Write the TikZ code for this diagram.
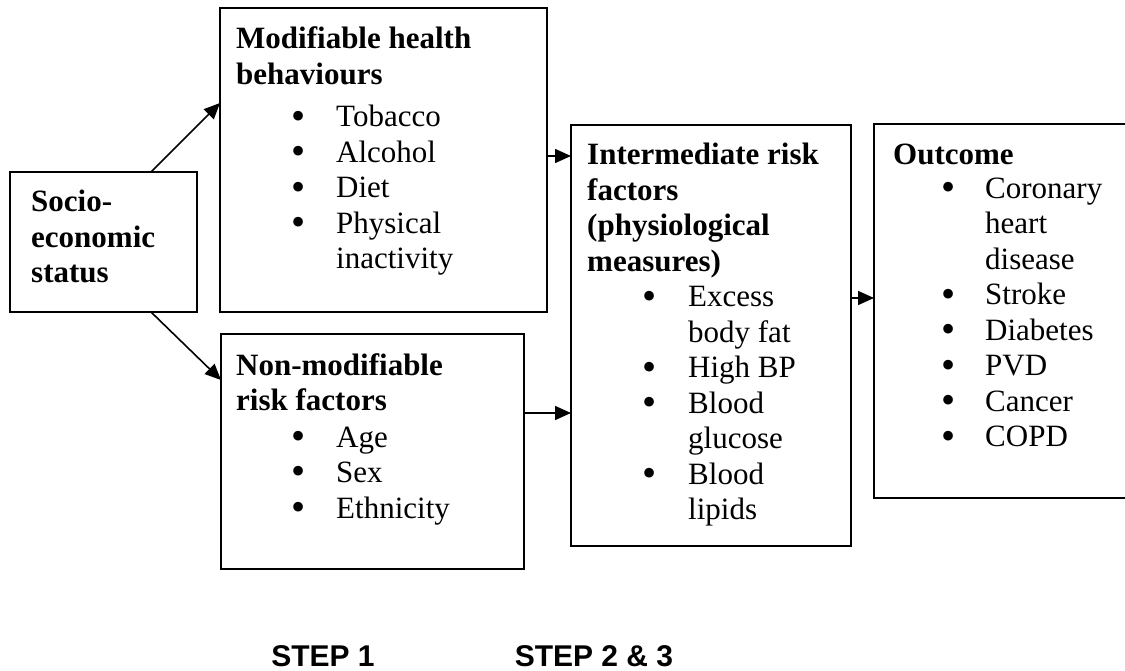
\documentclass[tikz,border=0pt]{standalone}
\usepackage{fontspec}
\usepackage{graphicx}
\setmainfont{Liberation Serif}
\newfontfamily\arialfont{Liberation Sans}
\usetikzlibrary{arrows.meta}

% bullet list lines: indent of the bullet, then gap to the item text
\newlength\bind
\newlength\tind
\newcommand\bigbullet{\raisebox{-2.4pt}[0pt][0pt]{\scalebox{1.3}{\textbullet}}}
\newcommand\bit[1]{\hspace*{\bind}\makebox[\tind][l]{\bigbullet}#1}
\newcommand\cnt[1]{\hspace*{\bind}\hspace*{\tind}#1}

\begin{document}
\begin{tikzpicture}[x=1pt,y=-1pt,
  panel/.style={draw,line width=1.8pt,inner sep=0pt,outer sep=0pt,anchor=north west},
  txt/.style={inner sep=0pt,anchor=base west,font=\fontsize{31}{35.5}\selectfont},
  arr/.style={line width=1.6pt,-{Triangle[length=16pt,width=14pt]}},
  steplbl/.style={inner sep=0pt,anchor=base,font=\arialfont\bfseries\fontsize{30}{34}\selectfont}]
\clip (0,0) rectangle (1125,671);

% boxes
\node[panel,minimum width=187pt,minimum height=140pt] (socio) at (10,172) {};
\node[panel,minimum width=327pt,minimum height=304pt] (mod) at (220,8) {};
\node[panel,minimum width=303pt,minimum height=235pt] (nonmod) at (221,334) {};
\node[panel,minimum width=280pt,minimum height=421pt] (inter) at (571,125) {};
\node[panel,minimum width=270pt,minimum height=374pt] (outc) at (874,124) {};

% box texts
\node[txt] (tsocio) at (31,212) {\parbox[t]{160pt}{\bfseries Socio-\\economic\\status}};

\node[txt] (tmod) at (236,49) {\setlength\bind{55pt}\setlength\tind{45pt}%
  \parbox[t]{310pt}{\textbf{Modifiable health}\\\textbf{behaviours}\\[7pt]
  \bit{Tobacco}\\\bit{Alcohol}\\\bit{Diet}\\\bit{Physical}\\\cnt{inactivity}}};

\node[txt] (tnonmod) at (236,375) {\setlength\bind{55pt}\setlength\tind{45pt}%
  \parbox[t]{290pt}{\textbf{Non-modifiable}\\\textbf{risk factors}\\[1pt]
  \bit{Age}\\\bit{Sex}\\\bit{Ethnicity}}};

\node[txt] (tinter) at (587,165) {\setlength\bind{55pt}\setlength\tind{46pt}%
  \parbox[t]{260pt}{\textbf{Intermediate risk}\\\textbf{factors}\\\textbf{(physiological}\\\textbf{measures)}\\
  \bit{Excess}\\\cnt{body fat}\\\bit{High BP}\\\bit{Blood}\\\cnt{glucose}\\\bit{Blood}\\\cnt{lipids}}};

\node[txt] (toutc) at (893,165) {\setlength\bind{48pt}\setlength\tind{44pt}%
  \parbox[t]{230pt}{\textbf{Outcome}\\[-2pt]
  \bit{Coronary}\\\cnt{heart}\\\cnt{disease}\\\bit{Stroke}\\\bit{Diabetes}\\\bit{PVD}\\\bit{Cancer}\\\bit{COPD}}};

% connectors
\draw[arr] ([xshift=141pt]socio.north west) -- ([yshift=-95pt]mod.north west);
\draw[arr] ([xshift=141pt]socio.south west) -- ([yshift=-46pt]nonmod.north west);

\coordinate (m1) at ([yshift=-148pt]mod.north east);
\draw[arr] (m1) -- (m1 -| inter.west);
\coordinate (n1) at ([yshift=-79pt]nonmod.north east);
\draw[arr] (n1) -- (n1 -| inter.west);
\coordinate (i1) at ([yshift=-173pt]inter.north east);
\draw[arr] (i1) -- (i1 -| outc.west);

% step labels
\node[steplbl] (step1) at (323,666) {STEP 1};
\node[steplbl] (step2) at (594,666) {STEP 2 \& 3};
\end{tikzpicture}
\end{document}
